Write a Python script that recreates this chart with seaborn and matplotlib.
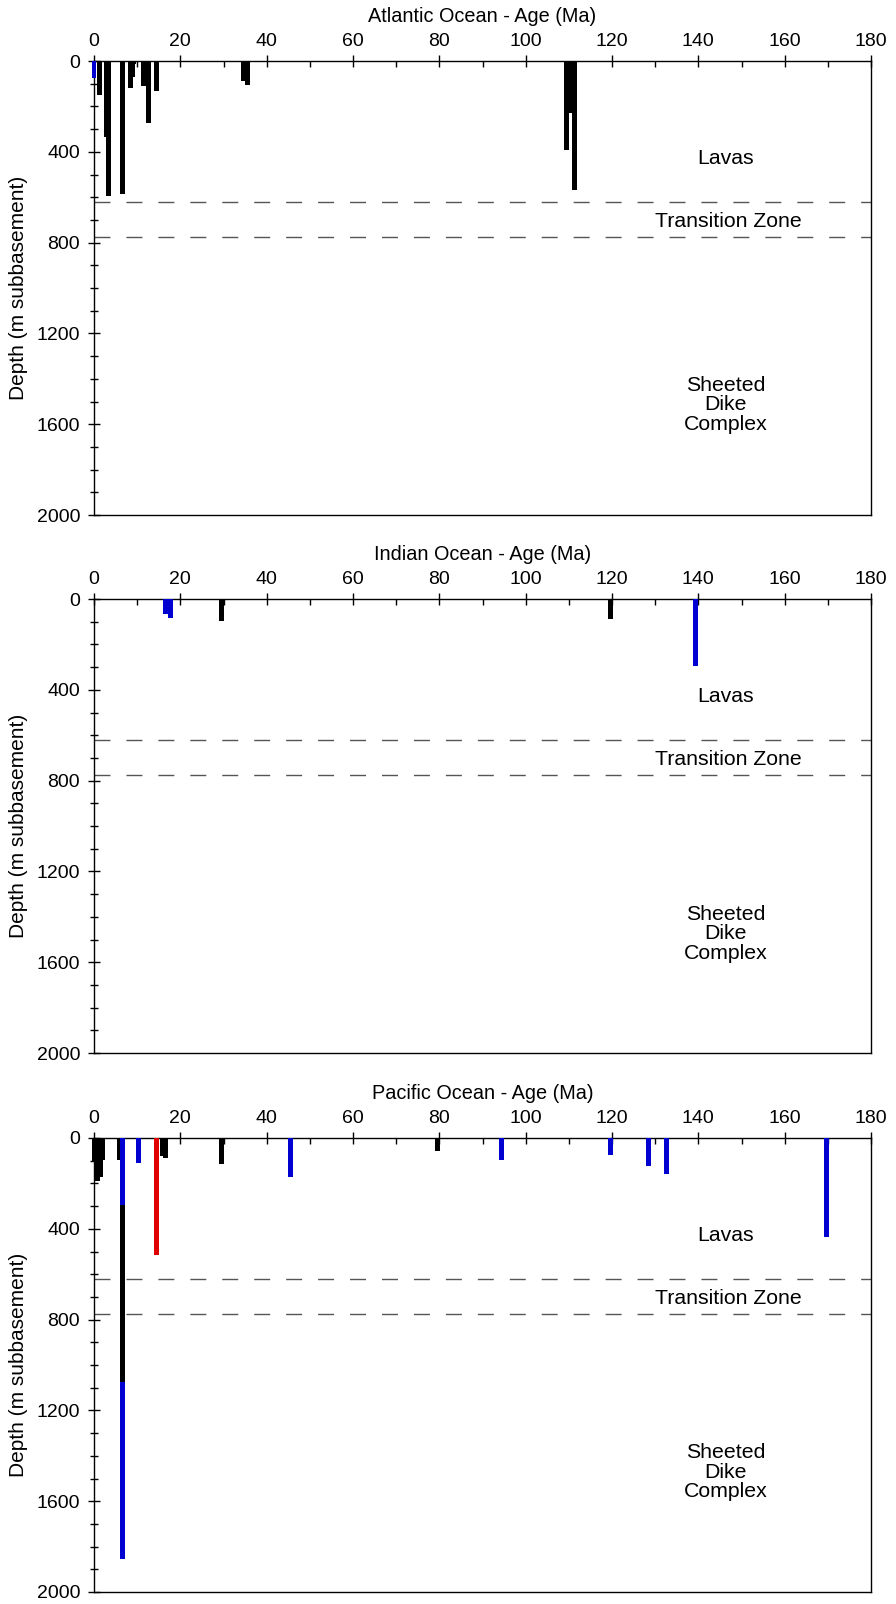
import matplotlib
matplotlib.use("Agg")
import matplotlib.pyplot as plt
from matplotlib.ticker import MultipleLocator
import pandas as pd
import seaborn as sns

sns.set_theme(style="ticks")
plt.rcParams["font.family"] = ["Liberation Sans", "DejaVu Sans"]
plt.rcParams["text.color"] = "black"
plt.rcParams["axes.labelcolor"] = "black"
plt.rcParams["xtick.color"] = "black"
plt.rcParams["ytick.color"] = "black"
plt.rcParams["axes.edgecolor"] = "black"

# ---- Atlantic Ocean: crustal age (Ma), drilled interval top/base (m subbasement)
atl_age = [0.0, 1.2, 2.9, 3.35, 6.7, 8.4, 8.9, 9.1, 11.45, 12.6, 14.5,
           34.6, 35.6, 109.5, 110.45, 111.4]
atl_top = [0] * 16
atl_base = [74, 151, 333, 595, 588, 120, 72, 15, 112, 273, 131,
            87, 107, 390, 229, 567]
atl_kind = ["blue"] + ["black"] * 15

# ---- Indian Ocean
ind_age = [16.6, 17.8, 29.5, 119.7, 139.4]
ind_top = [0, 0, 0, 0, 0]
ind_base = [66, 85, 99, 88, 294]
ind_kind = ["blue", "blue", "black", "black", "blue"]

# ---- Pacific Ocean
pac_age = [0.0, 0.9, 1.55, 1.95, 5.95, 6.6, 6.6, 6.6, 10.35, 14.5,
           15.9, 16.6, 29.45, 45.55, 79.55, 94.5, 119.65, 128.45, 132.55, 169.7]
pac_top = [0, 0, 0, 0, 0, 0, 297, 1075, 0, 0,
           0, 0, 0, 0, 0, 0, 0, 0, 0, 0]
pac_base = [105, 188, 170, 95, 95, 297, 1075, 1853, 109, 517,
            80, 88, 113, 172, 57, 95, 75, 122, 160, 438]
pac_kind = ["black", "black", "black", "black", "black", "blue", "black", "blue",
            "blue", "red", "black", "black", "black", "blue", "black", "blue",
            "blue", "blue", "blue", "blue"]

# Crustal layer boundaries (m subbasement) and layer names
boundaries = [623, 775]
layer_names = ["Lavas", "Transition Zone", "Sheeted\nDike\nComplex"]

oceans = ["Atlantic Ocean", "Indian Ocean", "Pacific Ocean"]
palette = {"black": "#000000", "blue": "#0000d0", "red": "#e00000"}

frames = [
    pd.DataFrame({"age": atl_age, "top": atl_top, "base": atl_base, "kind": atl_kind}),
    pd.DataFrame({"age": ind_age, "top": ind_top, "base": ind_base, "kind": ind_kind}),
    pd.DataFrame({"age": pac_age, "top": pac_top, "base": pac_base, "kind": pac_kind}),
]

W, H = 896, 1604
fig = plt.figure(figsize=(W / 100, H / 100), dpi=100)

ax_left, ax_w, ax_h = 94 / W, 777 / W, 454 / H
ax_bottoms = [1 - 515 / H, 1 - 1053 / H, 1 - 1592 / H]
sheeted_y = [1515, 1475, 1472]

for name, df, bottom, sy in zip(oceans, frames, ax_bottoms, sheeted_y):
    ax = fig.add_axes([ax_left, bottom, ax_w, ax_h])
    ax.bar(df["age"], df["base"] - df["top"], bottom=df["top"], width=1.15,
           color=df["kind"].map(palette), linewidth=0, zorder=3, clip_on=False)

    ax.set_xlim(0, 180)
    ax.set_ylim(2000, 0)
    ax.xaxis.set_ticks_position("top")
    ax.xaxis.set_label_position("top")
    ax.xaxis.set_major_locator(MultipleLocator(20))
    ax.xaxis.set_minor_locator(MultipleLocator(10))
    ax.yaxis.set_major_locator(MultipleLocator(400))
    ax.yaxis.set_minor_locator(MultipleLocator(100))
    ax.tick_params(axis="x", which="major", direction="inout", length=8, width=1,
                   labelsize=14, pad=4)
    ax.tick_params(axis="x", which="minor", direction="in", length=4, width=1)
    ax.tick_params(axis="y", which="major", direction="inout", length=8, width=1,
                   labelsize=14, pad=6)
    ax.tick_params(axis="y", which="minor", direction="inout", length=6, width=1)
    for sp in ax.spines.values():
        sp.set_linewidth(1.0)
        sp.set_color("black")

    ax.set_xlabel(f"{name} - Age (Ma)", fontsize=14.3, labelpad=8)
    ax.set_ylabel("Depth (m subbasement)", fontsize=15, labelpad=6)

    for b in boundaries:
        ax.axhline(b, color="#555555", linewidth=1.0, dashes=(11.5, 11.5), zorder=2)

    ax.text(146.4, 428, layer_names[0], ha="center", va="center", fontsize=15.3)
    ax.text(147.0, 706, layer_names[1], ha="center", va="center", fontsize=15.3)
    ax.text(146.3, sy, layer_names[2], ha="center", va="center", fontsize=15.3,
            multialignment="center", linespacing=1.02)

fig.savefig("out.png", dpi=100)
